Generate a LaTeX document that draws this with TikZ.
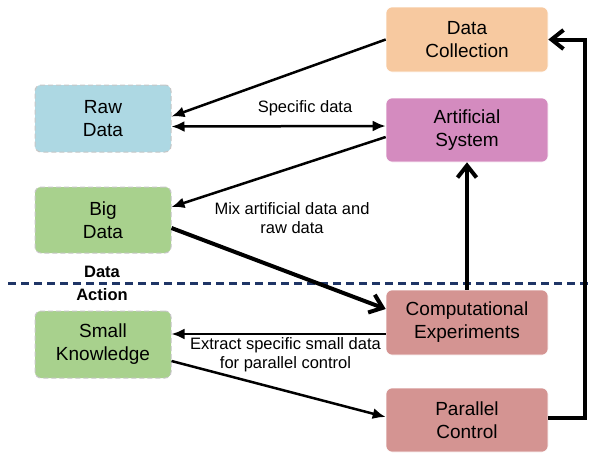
\documentclass[tikz,border=0pt]{standalone}
\usepackage{fontspec}
\setmainfont{Liberation Sans}
\usetikzlibrary{arrows.meta}
\definecolor{cpeach}{HTML}{F7C9A0}
\definecolor{cblue}{HTML}{ADD8E3}
\definecolor{corchid}{HTML}{D48BBF}
\definecolor{cgreen}{HTML}{A8D18D}
\definecolor{crose}{HTML}{D49492}
\definecolor{cnavy}{HTML}{1F3566}
\tikzset{
  solidbox/.style={rectangle, rounded corners=6pt, draw=white, line width=0.6pt,
    minimum width=162pt, minimum height=64pt, align=center,
    font=\fontsize{19}{23}\selectfont, inner sep=2pt},
  dashbox/.style={rectangle, rounded corners=6pt, draw=gray!45, dashed,
    dash pattern=on 5pt off 3pt, line width=1pt,
    minimum width=136pt, minimum height=66pt, align=center,
    font=\fontsize{19}{23}\selectfont, inner sep=2pt},
  thinarrow/.style={line width=2.5pt, -{Latex[length=13pt,width=11pt]}},
  thickarrow/.style={line width=4pt, -{Straight Barb[length=12pt,width=19pt]}},
  lbl/.style={align=center, font=\fontsize{16.5}{19}\selectfont, inner sep=0pt},
  side/.style={font=\bfseries\fontsize{16.5}{19}\selectfont, inner sep=0pt}
}
\begin{document}
\begin{tikzpicture}[x=1pt,y=-1pt]
\useasboundingbox (0,0) rectangle (592,456);
% dashed separator
\draw[cnavy, line width=3pt, dash pattern=on 8pt off 5pt] (8,283) -- (592,283);
\node[side] (dlab) at (102,272) {Data};
\node[side] (alab) at (102,295) {Action};
% nodes
\node[solidbox, fill=cpeach, minimum height=65pt] (dc) at (467,39.5) {Data\\Collection};
\node[solidbox, fill=corchid] (as) at (467,130) {Artificial\\System};
\node[solidbox, fill=crose, minimum height=65pt] (ce) at (467,322.5) {Computational\\Experiments};
\node[solidbox, fill=crose] (pc) at (467,420) {Parallel\\Control};
\node[dashbox, fill=cblue, minimum height=67pt] (rd) at (103,118.5) {Raw\\Data};
\node[dashbox, fill=cgreen] (bd) at (103,220) {Big\\Data};
\node[dashbox, fill=cgreen, minimum height=67pt] (sk) at (103,344.5) {Small\\Knowledge};
% connectors
\draw[thinarrow] (dc.west) -- ([yshift=2pt]rd.east);
\draw[line width=2.5pt, {Latex[length=13pt,width=11pt]}-{Latex[length=13pt,width=11pt]}]
  ([yshift=-8pt]rd.east) -- ([yshift=4pt]as.west);
\node[lbl] (l1) at (305,108) {Specific data};
\draw[thinarrow] ([yshift=-7pt]as.west) -- ([yshift=13pt]bd.east);
\node[lbl] (l2) at (292,218) {Mix artificial data and\\raw data};
\draw[thickarrow] ([yshift=-8pt]bd.east) -- ([yshift=13.5pt]ce.west);
\draw[thickarrow] (ce.north) -- (as.south);
\draw[thinarrow] ([yshift=-11.5pt]ce.west) -- ([yshift=10.5pt]sk.east);
\node[lbl] (l3) at (285.5,355) {Extract specific small data\\for parallel control};
\draw[thinarrow] ([yshift=-16.5pt]sk.east) -- ([yshift=3pt]pc.west);
\draw[thickarrow, line join=miter] ([yshift=2pt]pc.east) -- ++(37,0) |- (dc.east);
\end{tikzpicture}
\end{document}
